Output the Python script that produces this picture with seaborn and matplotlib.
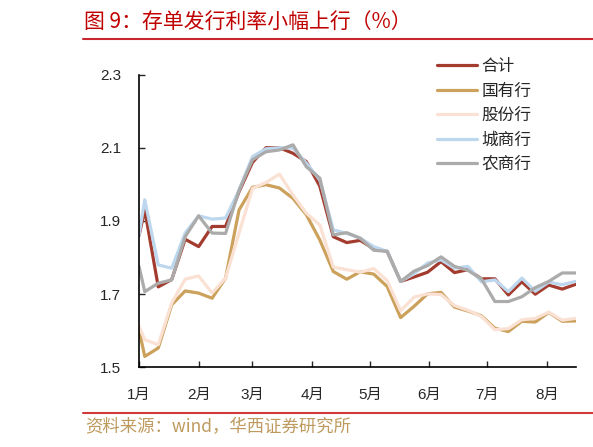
import numpy as np
import pandas as pd
import matplotlib
matplotlib.use("Agg")
import matplotlib.pyplot as plt
import matplotlib.dates as mdates
import seaborn as sns

# weekly dates, 2021
dates = ["2021-01-01"] + [d.strftime("%Y-%m-%d") for d in pd.date_range("2021-01-04", "2021-08-16", freq="7D")]

total = [1.86, 1.93, 1.72, 1.74, 1.85, 1.83, 1.885, 1.885, 1.98, 2.06, 2.10, 2.10,
         2.085, 2.062, 1.995, 1.857, 1.841, 1.847, 1.824, 1.817, 1.735, 1.747, 1.760, 1.789,
         1.759, 1.767, 1.742, 1.742, 1.698, 1.734, 1.700, 1.725, 1.714, 1.727]
state = [1.603, 1.530, 1.553, 1.671, 1.709, 1.703, 1.689, 1.744, 1.930, 1.992, 1.999, 1.990,
         1.962, 1.917, 1.848, 1.762, 1.741, 1.761, 1.755, 1.721, 1.636, 1.667, 1.701, 1.705,
         1.665, 1.654, 1.641, 1.607, 1.598, 1.626, 1.624, 1.650, 1.626, 1.627]
joint = [1.612, 1.576, 1.562, 1.676, 1.741, 1.750, 1.703, 1.744, 1.867, 1.989, 2.005, 2.028,
         1.971, 1.921, 1.889, 1.774, 1.767, 1.760, 1.770, 1.737, 1.655, 1.692, 1.701, 1.699,
         1.669, 1.656, 1.639, 1.603, 1.606, 1.630, 1.634, 1.651, 1.629, 1.634]
city = [1.860, 1.958, 1.780, 1.771, 1.867, 1.914, 1.905, 1.908, 1.984, 2.076, 2.097, 2.100,
        2.099, 2.058, 2.012, 1.876, 1.866, 1.853, 1.830, 1.817, 1.735, 1.756, 1.785, 1.794,
        1.771, 1.776, 1.734, 1.739, 1.707, 1.744, 1.708, 1.733, 1.726, 1.735]
rural = [1.776, 1.707, 1.730, 1.739, 1.857, 1.914, 1.867, 1.866, 1.984, 2.067, 2.089, 2.094,
         2.108, 2.048, 2.017, 1.862, 1.868, 1.853, 1.820, 1.817, 1.735, 1.763, 1.778, 1.802,
         1.776, 1.765, 1.742, 1.680, 1.680, 1.693, 1.718, 1.735, 1.758, 1.758]

names = ["合计", "国有行", "股份行", "城商行", "农商行"]
colors = ["#A33B2E", "#CBA15C", "#FAE1D3", "#BDD7EE", "#ABABAB"]

df = pd.DataFrame({"date": pd.to_datetime(dates), "合计": total, "国有行": state,
                   "股份行": joint, "城商行": city, "农商行": rural})
long = df.melt(id_vars="date", var_name="series", value_name="rate")

sns.set_style("ticks")
plt.rcParams['font.family'] = ['Liberation Sans', 'Noto Sans CJK SC', 'DejaVu Sans']

fig = plt.figure(figsize=(5.93, 4.47), dpi=100)
ax = fig.add_axes([0.2344, 0.178, 0.9708 - 0.2344, 0.8333 - 0.178])

sns.lineplot(data=long, x="date", y="rate", hue="series", hue_order=names,
             palette=dict(zip(names, colors)), linewidth=2.3, ax=ax, legend=False)

ax.set_xlim(pd.Timestamp("2021-01-01"), pd.Timestamp("2021-08-16"))
ax.set_ylim(1.5, 2.3)
ax.set_yticks([1.5, 1.7, 1.9, 2.1, 2.3])
ax.set_yticklabels(["1.5", "1.7", "1.9", "2.1", "2.3"])
ax.xaxis.set_major_locator(mdates.MonthLocator())
ax.xaxis.set_major_formatter(mdates.DateFormatter("%-m月"))
ax.set_xlabel("")
ax.set_ylabel("")
ax.tick_params(axis="x", direction="in", length=4, width=1, pad=15, labelsize=11)
ax.tick_params(axis="y", direction="in", length=4, width=1, pad=13, labelsize=11)
for s in ["top", "right"]:
    ax.spines[s].set_visible(False)
for s in ["left", "bottom"]:
    ax.spines[s].set_linewidth(1.2)
    ax.spines[s].set_color("black")

handles = [plt.Line2D([], [], color=c, lw=2.3) for c in colors]
ax.legend(handles, names, loc="upper left", bbox_to_anchor=(437 / 593, 1 - 58 / 447),
          bbox_transform=fig.transFigure, frameon=False, borderpad=0, borderaxespad=0,
          handlelength=2.4, handletextpad=0.25, labelspacing=0.45,
          prop={"family": ["Noto Sans CJK SC"], "size": 12})

# title and source
fig.text(84 / 593, 1 - 21.5 / 447, "图 9：存单发行利率小幅上行（%）", color="#C00000",
         fontsize=15, va="center", ha="left", family=["Noto Sans CJK SC", "DejaVu Sans"])
fig.add_artist(plt.Line2D([83 / 593, 1], [1 - 39 / 447, 1 - 39 / 447], color="#C8282D", lw=1.5))
fig.add_artist(plt.Line2D([83 / 593, 1], [1 - 412.7 / 447, 1 - 412.7 / 447], color="#D03A3A", lw=1.5))
fig.text(85 / 593, 1 - 427 / 447, "资料来源：wind，华西证券研究所", color="#BE9A5E",
         fontsize=12.5, va="center", ha="left", family=["Noto Sans CJK SC", "DejaVu Sans"])

fig.savefig("out.png", dpi=100)
